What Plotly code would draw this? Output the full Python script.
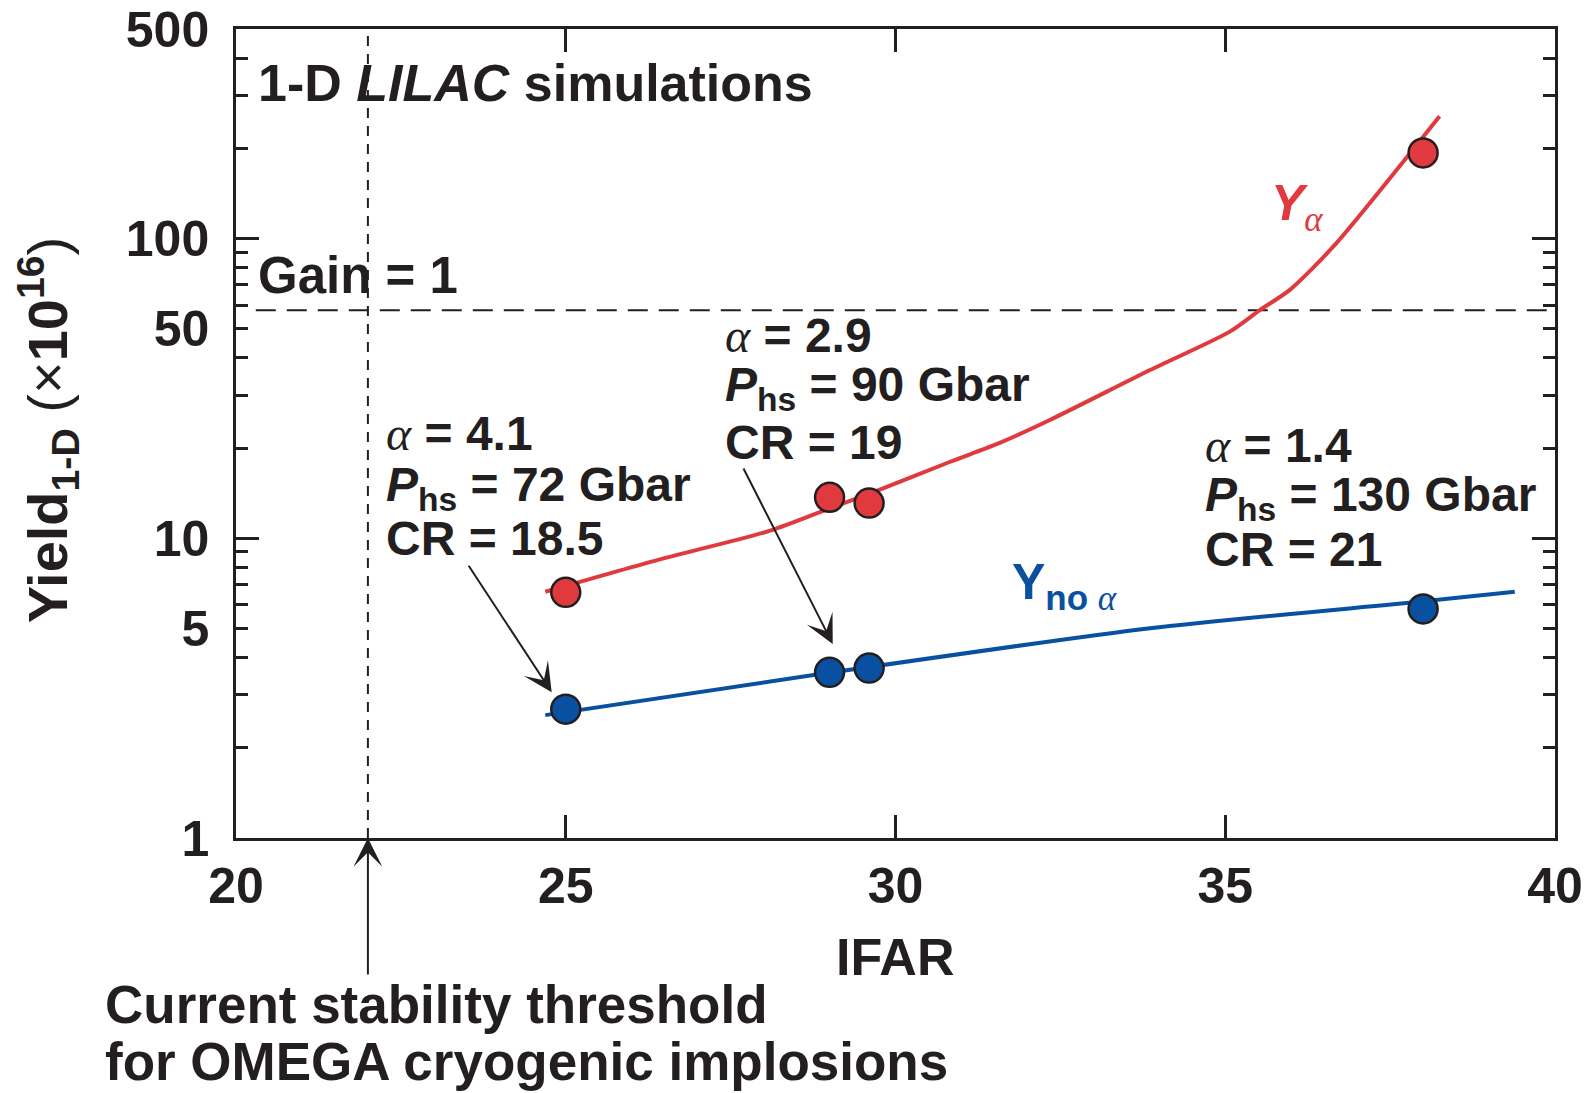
import math
import plotly.graph_objects as go

# ---- data -------------------------------------------------------------
# simulated implosion designs (IFAR, yield with and without alpha heating)
ifar_sim = [25.0, 29.0, 29.6, 38.0]
yield_alpha = [6.6, 13.7, 13.1, 193.0]
yield_no_alpha = [2.69, 3.57, 3.69, 5.81]

# trend curves through the simulations
curve_alpha_ifar = [24.69, 26.4, 28.1, 29.05, 29.58, 30.83, 31.58, 32.34,
                    33.86, 35.07, 35.53, 35.98, 36.64, 38.25]
curve_alpha_yield = [6.63, 8.47, 10.6, 12.7, 14.0, 18.0, 20.8, 24.8,
                     36.4, 48.9, 57.8, 67.4, 94.1, 256.0]
curve_no_alpha_ifar = [24.69, 28.96, 33.86, 37.97, 39.39]
curve_no_alpha_yield = [2.57, 3.55, 5.01, 6.15, 6.63]

gain_one_yield = 57.6          # yield at which target gain = 1
gain_line_ifar = [20.3, 39.9]
stability_ifar = 22.0          # current OMEGA stability threshold

# design parameters labelled for three of the designs
design_alpha = ["4.1", "2.9", "1.4"]
design_phs = ["72", "90", "130"]
design_cr = ["18.5", "19", "21"]

x_range = [20, 40]
x_ticks = [20, 25, 30, 35, 40]
y_ticks = [1, 5, 10, 50, 100, 500]
y_major_long = [10, 100]
y_minor = [2, 3, 4, 6, 7, 8, 9, 20, 30, 40, 60, 70, 80, 90, 200, 300, 400]
y_range = [1, 500]

# ---- styling ----------------------------------------------------------
INK = "#231F20"
RED = "#E03A3E"
BLUE = "#0A50A0"
FONT = "Liberation Sans"
# Greek alpha set in a light serif italic, as in the typeset figure
ALPHA = ("<span style=\"font-family:'Liberation Serif';font-weight:normal;"
         "font-style:italic\">α</span>")


def bold(size, color=INK):
    return dict(family=FONT, size=size, color=color, weight="bold")


fig = go.Figure()

# dashed reference lines
fig.add_trace(go.Scatter(
    x=gain_line_ifar, y=[gain_one_yield, gain_one_yield], mode="lines",
    line=dict(color=INK, width=2, dash="20px,11px"), hoverinfo="skip"))
fig.add_trace(go.Scatter(
    x=[stability_ifar, stability_ifar], y=y_range, mode="lines",
    line=dict(color=INK, width=2, dash="10px,8px"), hoverinfo="skip"))

# trend curves
fig.add_trace(go.Scatter(
    x=curve_alpha_ifar, y=curve_alpha_yield, mode="lines",
    line=dict(color=RED, width=4, shape="spline", smoothing=0.7),
    hoverinfo="skip"))
fig.add_trace(go.Scatter(
    x=curve_no_alpha_ifar, y=curve_no_alpha_yield, mode="lines",
    line=dict(color=BLUE, width=4, shape="spline", smoothing=0.7),
    hoverinfo="skip"))

# simulation points
fig.add_trace(go.Scatter(
    x=ifar_sim, y=yield_alpha, mode="markers",
    marker=dict(size=29, color=RED, line=dict(color=INK, width=2.5))))
fig.add_trace(go.Scatter(
    x=ifar_sim, y=yield_no_alpha, mode="markers",
    marker=dict(size=29, color=BLUE, line=dict(color=INK, width=2.5))))

# invisible helpers so the decade-tick and top-tick axes are drawn
fig.add_trace(go.Scatter(x=[30], y=[10], yaxis="y2", mode="markers",
                         marker=dict(opacity=0), hoverinfo="skip"))
fig.add_trace(go.Scatter(x=[30], y=[10], xaxis="x2", mode="markers",
                         marker=dict(opacity=0), hoverinfo="skip"))

L = math.log10
ann = []


def text(x, y, s, size=48, color=INK, xanchor="left", xref="x", yref="y"):
    ann.append(dict(x=x, y=y, xref=xref, yref=yref, text=s, showarrow=False,
                    xanchor=xanchor, yanchor="middle", font=bold(size, color)))


text(20.30, 2.52, "1-D <i>LILAC</i> simulations", size=52)
text(20.30, 1.875, "Gain = 1", size=51)

blocks = [(22.25, [1.351, 1.168, 0.998]),
          (27.39, [1.678, 1.5015, 1.321]),
          (34.66, [1.311, 1.134, 0.961])]
for (bx, ys), a, p, c in zip(blocks, design_alpha, design_phs, design_cr):
    text(bx, ys[0], f"{ALPHA} = {a}")
    text(bx, ys[1], f"<i>P</i><sub>hs</sub> = {p} Gbar")
    text(bx, ys[2], f"CR = {c}")

text(35.66, 2.104, f"<i>Y</i><sub>{ALPHA}</sub>", size=50, color=RED)
text(31.73, 0.842, f"Y<sub>no {ALPHA}</sub>", size=50, color=BLUE)

# arrows
arrow_style = dict(showarrow=True, arrowhead=3, arrowsize=2.4, arrowwidth=2,
                   arrowcolor=INK, text="", xref="x", yref="y")
ann.append(dict(x=24.787, y=0.4862, ax=-84, ay=-128, **arrow_style))
ann.append(dict(x=29.048, y=0.6473, ax=-90, ay=-177, **arrow_style))
ann.append(dict(x=stability_ifar, y=0, ax=0, ay=138, **arrow_style))

# caption below the axis
text(-0.1005, -0.2064, "Current stability threshold", size=53,
     xref="paper", yref="paper")
text(-0.1005, -0.2757, "for OMEGA cryogenic implosions", size=53,
     xref="paper", yref="paper")

# axis titles
text(0.4996, -0.147, "IFAR", size=52, xanchor="center",
     xref="paper", yref="paper")
ann.append(dict(
    x=-0.1426, y=0.504, xref="paper", yref="paper", showarrow=False,
    textangle=-90, xanchor="center", yanchor="middle",
    text="<b>Yield<sub>1-D</sub></b> (×<b>10<sup>16</sup></b>)",
    font=dict(family=FONT, size=56, color=INK, weight="normal")))

axis_common = dict(showline=True, linewidth=2.5, linecolor=INK,
                   showgrid=False, zeroline=False, ticks="inside",
                   tickwidth=2.5, tickcolor=INK, mirror="ticks",
                   automargin=False)

fig.update_layout(
    width=1587, height=1093,
    margin=dict(l=236, r=32, t=29, b=255, autoexpand=False),
    paper_bgcolor="white", plot_bgcolor="white",
    showlegend=False,
    annotations=ann,
    xaxis=dict(range=x_range, tickmode="array", tickvals=x_ticks,
               ticklen=23, tickfont=bold(50), ticklabelstandoff=2,
               **axis_common),
    xaxis2=dict(range=x_range, overlaying="x", side="top", anchor="y",
                tickmode="array", tickvals=x_ticks, ticks="inside",
                ticklen=23, tickwidth=2.5, tickcolor=INK,
                showticklabels=False, showline=False, showgrid=False,
                zeroline=False, automargin=False),
    yaxis=dict(type="log", range=[L(y_range[0]), L(y_range[1])],
               tickmode="array", tickvals=y_ticks,
               ticktext=[str(v) for v in y_ticks], ticklen=12,
               tickfont=bold(50), ticklabelstandoff=14,
               minor=dict(tickmode="array", tickvals=y_minor, ticks="inside",
                          ticklen=12, tickwidth=2.5, tickcolor=INK),
               **axis_common),
    yaxis2=dict(type="log", range=[L(y_range[0]), L(y_range[1])],
                overlaying="y", side="left", tickmode="array",
                tickvals=y_major_long, ticks="inside", ticklen=23,
                tickwidth=2.5, tickcolor=INK, showticklabels=False,
                showline=False, showgrid=False, zeroline=False,
                mirror="ticks", automargin=False),
)

fig.write_html("out.html", config={"displayModeBar": False})
